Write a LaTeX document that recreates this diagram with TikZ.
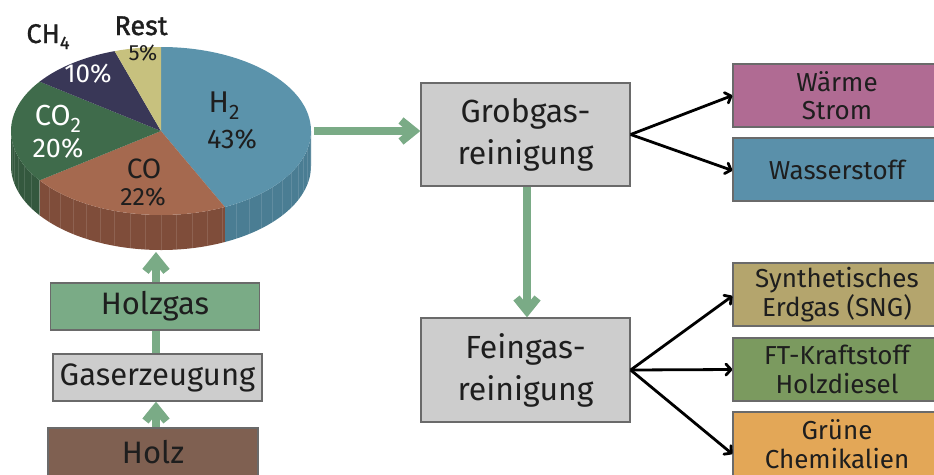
\documentclass[tikz,border=0pt]{standalone}
\usepackage{fontspec}
\setmainfont{Fira Sans}
\usetikzlibrary{arrows.meta}

% slice colours (top / side)
\definecolor{hTop}{HTML}{5B93AB}
\definecolor{hSide}{HTML}{4A7D93}
\definecolor{coTop}{HTML}{A5694F}
\definecolor{coSide}{HTML}{7F4D3A}
\definecolor{cdTop}{HTML}{3F6B4B}
\definecolor{cdSide}{HTML}{34583E}
\definecolor{chTop}{HTML}{393757}
\definecolor{restTop}{HTML}{C7C17E}
% boxes and arrows
\definecolor{flowGreen}{HTML}{7AAB86}
\definecolor{holzBrown}{HTML}{7F6051}
\definecolor{procGray}{HTML}{CDCDCD}
\definecolor{frameGray}{HTML}{6A6A6A}
\definecolor{txtDark}{HTML}{1E1E1E}
\definecolor{waermeCol}{HTML}{B06B93}
\definecolor{wasserCol}{HTML}{5A90AA}
\definecolor{sngCol}{HTML}{B4A56D}
\definecolor{ftCol}{HTML}{7B9A5F}
\definecolor{chemCol}{HTML}{E3A757}

\newcommand{\sz}[2]{\fontsize{#1}{#2}\selectfont}
\newcommand{\lowsub}[3]{\raisebox{-#1}{\sz{#2}{#2}#3}}

\begin{document}
\begin{tikzpicture}[x=1pt,y=-1pt,
  box/.style={draw=frameGray, line width=1.3pt, inner sep=0pt, align=center,
              text=txtDark, minimum width=209pt},
  leftbox/.style={box, font=\sz{31}{36}},
  procbox/.style={box, fill=procGray, font=\sz{32}{42}},
  outbox/.style={box, minimum width=208pt, minimum height=63pt, font=\sz{26}{28.5}},
  greenflow/.style={draw=flowGreen, line width=8pt,
     -{Straight Barb[length=13pt,width=21pt,line cap=butt,line join=miter]}},
  greenline/.style={draw=flowGreen, line width=8pt},
  blackflow/.style={draw=black, line width=2.8pt,
     -{Straight Barb[length=5pt,width=11pt,line cap=round,line join=round]}},
  lbl/.style={inner sep=0pt, anchor=base, text=txtDark},
  wlbl/.style={inner sep=0pt, anchor=base, text=white},
  ell/.style={x radius=150, y radius=84}
]
\useasboundingbox (0,0) rectangle (934,474);
\clip (0,0) rectangle (934,474);

% ---------------- gas composition pie ----------------
\begin{scope}[shift={(161,131)}]
  % visible rim
  \fill[hSide] (0:150 and 84) arc[ell,start angle=0,end angle=64.8]
     -- ++(0,35) arc[ell,start angle=64.8,end angle=0] -- cycle;
  \fill[coSide] (64.8:150 and 84) arc[ell,start angle=64.8,end angle=144]
     -- ++(0,35) arc[ell,start angle=144,end angle=64.8] -- cycle;
  \fill[cdSide] (144:150 and 84) arc[ell,start angle=144,end angle=180]
     -- ++(0,35) arc[ell,start angle=180,end angle=144] -- cycle;
  % faint facets on the rim
  \foreach \a in {6,12,...,174}
    \draw[white, opacity=0.12, line width=0.6pt] (\a:150 and 84) -- ++(0,35);
  % top faces
  \fill[hTop] (0,0) -- (-90:150 and 84) arc[ell,start angle=-90,end angle=64.8] -- cycle;
  \fill[coTop] (0,0) -- (64.8:150 and 84) arc[ell,start angle=64.8,end angle=144] -- cycle;
  \fill[cdTop] (0,0) -- (144:150 and 84) arc[ell,start angle=144,end angle=216] -- cycle;
  \fill[chTop] (0,0) -- (216:150 and 84) arc[ell,start angle=216,end angle=252] -- cycle;
  \fill[restTop] (0,0) -- (252:150 and 84) arc[ell,start angle=252,end angle=270] -- cycle;
\end{scope}

% pie labels
\node[lbl, font=\sz{30}{30}] (lh) at (224,112) {H\lowsub{7pt}{21}{2}};
\node[lbl, font=\sz{27}{27}] (ph) at (232,148) {43\%};
\node[lbl, font=\sz{28}{28}] (lco) at (144,178) {CO};
\node[lbl, font=\sz{25}{25}] (pco) at (143,205) {22\%};
\node[wlbl, font=\sz{29}{29}] (lcd) at (58,125) {CO\lowsub{7pt}{21}{2}};
\node[wlbl, font=\sz{27}{27}] (pcd) at (58,157) {20\%};
\node[wlbl, font=\sz{26}{26}] (pch) at (88,82) {10\%};
\node[lbl, font=\sz{27}{27}\addfontfeature{FakeBold=1}] (lch) at (48,43) {CH\lowsub{6pt}{18}{4}};
\node[lbl, font=\sz{27}{27}\addfontfeature{FakeBold=1.5}] (lrest) at (141,35) {Rest};
\node[lbl, font=\sz{22}{22}] (prest) at (143,60) {5\%};

% ---------------- left column ----------------
\node[leftbox, fill=flowGreen, minimum height=47pt] (holzgas) at (155,306.5) {Holzgas};
\node[leftbox, fill=procGray, minimum height=47pt, minimum width=209pt] (gaserz) at (157.5,377.5) {Gaserzeugung};
\node[leftbox, fill=holzBrown, minimum width=210pt, minimum height=48pt] (holz) at (153,452) {Holz};
\coordinate (pieBase) at (156,252);
\coordinate (pieRight) at (314,131);

\draw[greenflow] (holz.north -| pieBase) -- (gaserz.south -| pieBase);
\draw[greenline] (gaserz.north -| pieBase) -- (holzgas.south -| pieBase);
\draw[greenflow] (holzgas.north -| pieBase) -- (pieBase);

% ---------------- gas cleaning ----------------
\node[procbox, minimum height=103pt] (grob) at (525.5,134.5) {Grobgas-\\reinigung};
\node[procbox, minimum height=104pt] (fein) at (525.5,370) {Feingas-\\reinigung};

\draw[greenflow] (pieRight) -- (grob.west |- pieRight);
\draw[greenflow] (grob.south -| 527,0) -- (fein.north -| 527,0);

% ---------------- products ----------------
\node[outbox, fill=waermeCol] (waerme) at (837,95.5) {W\"arme\\Strom};
\node[outbox, fill=wasserCol] (wasser) at (837,169.5) {Wasserstoff};
\node[outbox, fill=sngCol] (sng) at (837,294.5) {Synthetisches\\Erdgas (SNG)};
\node[outbox, fill=ftCol] (ft) at (837,369.5) {FT-Kraftstoff\\Holzdiesel};
\node[outbox, fill=chemCol, minimum height=64pt] (chem) at (837,444) {Gr\"une\\Chemikalien};

\draw[blackflow] (grob.east) -- (waerme.west);
\draw[blackflow] (grob.east) -- ([yshift=-1pt]wasser.west);
\draw[blackflow] (fein.east) -- ([yshift=-1.5pt]sng.west);
\draw[blackflow] (fein.east) -- (ft.west);
\draw[blackflow] (fein.east) -- ([yshift=-10pt]chem.west);
\end{tikzpicture}
\end{document}
